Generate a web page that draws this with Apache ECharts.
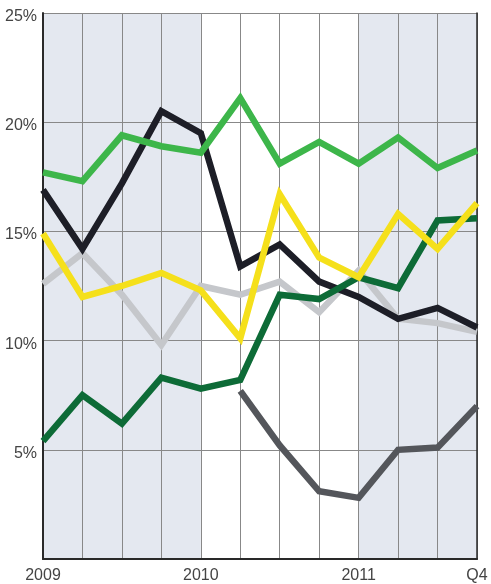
<!DOCTYPE html>
<html>
<head>
<meta charset="utf-8">
<script src="https://cdn.jsdelivr.net/npm/echarts@6/dist/echarts.min.js"></script>
<style>
  html, body { margin: 0; padding: 0; background: #fff; }
  #chart { width: 491px; height: 584px; }
</style>
</head>
<body>
<div id="chart"></div>
<script>
// quarters 2009 Q1 .. 2011 Q4, only some get a label
const quarters = ['2009', '', '', '', '2010', '', '', '', '2011', '', '', 'Q4'];

const lightGreen = [17.7, 17.3, 19.4, 18.9, 18.6, 21.1, 18.1, 19.1, 18.1, 19.3, 17.9, 18.7];
const black      = [16.9, 14.2, 17.2, 20.5, 19.5, 13.4, 14.4, 12.7, 12.0, 11.0, 11.5, 10.6];
const yellow     = [14.9, 12.0, 12.5, 13.1, 12.3, 10.1, 16.7, 13.8, 12.9, 15.8, 14.2, 16.3];
const lightGray  = [12.6, 14.0, 12.1,  9.8, 12.5, 12.1, 12.7, 11.3, 13.2, 11.0, 10.8, 10.4];
const darkGreen  = [ 5.4,  7.5,  6.2,  8.3,  7.8,  8.2, 12.1, 11.9, 12.9, 12.4, 15.5, 15.6];
const darkGray   = [null, null, null, null, null, 7.7, 5.2, 3.1, 2.8, 5.0, 5.1, 7.0];

const yTicks = [0, 5, 10, 15, 20, 25];

const font = "'Liberation Sans', 'Roboto', sans-serif";
const frame = '#2a2a2a';

function line(name, data, color, z) {
    return {
        name: name,
        type: 'line',
        data: data,
        symbol: 'none',
        zlevel: 1,
        z: z,
        lineStyle: { color: color, width: 6.5, join: 'miter', cap: 'butt' },
        connectNulls: false
    };
}

const chart = echarts.init(document.getElementById('chart'));

const option = {
    animation: false,
    grid: { left: 43, right: 14, top: 13, bottom: 24 },
    xAxis: [{
        type: 'category',
        data: quarters,
        boundaryGap: false,
        zlevel: 1,
        axisLine: { lineStyle: { color: frame, width: 2 } },
        axisTick: { show: false },
        axisLabel: {
            interval: 0,
            color: '#444',
            fontFamily: font,
            fontSize: 16,
            margin: 9
        },
        splitLine: { show: true, lineStyle: { color: '#888', width: 1 } }
    }, {
        // top edge of the frame
        type: 'category',
        data: quarters,
        position: 'top',
        boundaryGap: false,
        zlevel: 1,
        axisLine: { lineStyle: { color: frame, width: 1.5 } },
        axisTick: { show: false },
        axisLabel: { show: false },
        splitLine: { show: false }
    }],
    yAxis: [{
        type: 'value',
        min: yTicks[0],
        max: yTicks[yTicks.length - 1],
        interval: 5,
        zlevel: 1,
        axisLine: { show: true, lineStyle: { color: frame, width: 2 } },
        axisTick: { show: false },
        axisLabel: {
            color: '#444',
            fontFamily: font,
            fontSize: 16,
            margin: 6,
            verticalAlign: 'top',
            lineHeight: 7,
            formatter: function (v) { return v === 0 ? '' : v + '%'; }
        },
        splitLine: { show: true, lineStyle: { color: '#888', width: 1 } }
    }, {
        // right edge of the frame
        type: 'value',
        min: yTicks[0],
        max: yTicks[yTicks.length - 1],
        interval: 5,
        position: 'right',
        zlevel: 1,
        axisLine: { show: true, lineStyle: { color: frame, width: 1.5 } },
        axisTick: { show: false },
        axisLabel: { show: false },
        splitLine: { show: false }
    }],
    series: [
        {
            // shaded years, drawn on the lower layer under the grid lines
            type: 'line',
            data: [],
            zlevel: 0,
            markArea: {
                silent: true,
                itemStyle: { color: '#e4e8f0' },
                data: [
                    [{ xAxis: 0 }, { xAxis: 4 }],
                    [{ xAxis: 8 }, { xAxis: 11 }]
                ]
            }
        },
        line('light gray', lightGray, '#c5c7cb', 2),
        line('black', black, '#1d1e27', 3),
        line('dark gray', darkGray, '#54565b', 4),
        line('dark green', darkGreen, '#0d6b37', 5),
        line('yellow', yellow, '#f5e01b', 6),
        line('light green', lightGreen, '#3db64a', 7)
    ]
};

chart.setOption(option);
</script>
</body>
</html>
